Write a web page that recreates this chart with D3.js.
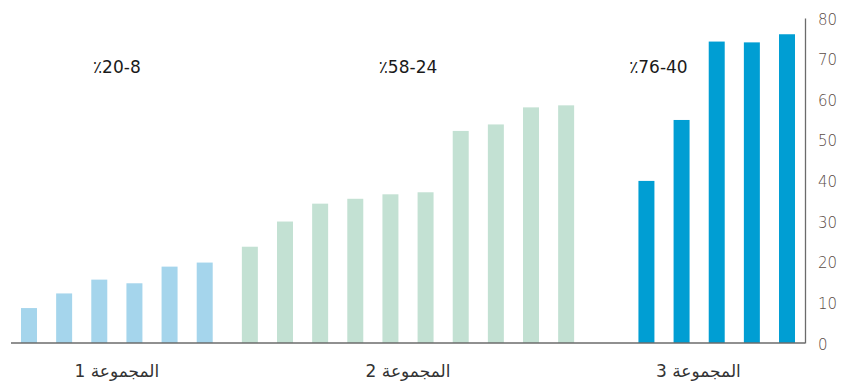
<!DOCTYPE html>
<html>
<head>
<meta charset="utf-8">
<script src="https://cdn.jsdelivr.net/npm/d3@7"></script>
<style>
  body { margin: 0; background: #fff; }
  svg { display: block; }
</style>
</head>
<body>
<div id="chart"></div>
<script>
// data
const groupNames = ["المجموعة 1", "المجموعة 2", "المجموعة 3"];
const rangeLabels = ["٪20-8", "٪58-24", "٪76-40"];
const group1 = [8.6, 12.2, 15.6, 14.7, 18.8, 19.8];
const group2 = [23.7, 29.9, 34.3, 35.5, 36.6, 37.1, 52.2, 53.8, 58.0, 58.5];
const group3 = [39.9, 54.9, 74.2, 74.0, 76.0];
const yTicks = [0, 10, 20, 30, 40, 50, 60, 70, 80];
const colors = ["#a5d5ec", "#c3e1d3", "#009ed3"];

const width = 844, height = 383;
const svg = d3.select("#chart")
    .append("svg")
    .attr("width", width)
    .attr("height", height);

const groups = [group1, group2, group3];

// flat list of bars, one empty slot before the last group
const slots = [];
groups.forEach((vals, g) => {
    if (g === 2) slots.push({ key: "gap", g: g, value: null });
    vals.forEach((v, i) => slots.push({ key: g + "-" + i, g: g, value: v }));
});
const bars = slots.filter(d => d.value !== null);

const groupGap = 10;
const x = d3.scaleBand()
    .domain(slots.map(d => d.key))
    .range([21, 775])
    .paddingInner(0.545)
    .paddingOuter(0);

const barX = d => x(d.key) + d.g * groupGap;

const y = d3.scaleLinear()
    .domain([0, 80])
    .range([343, 18]);

const axisX = 805;

// bars
svg.selectAll("rect.bar")
    .data(bars)
    .enter()
    .append("rect")
    .attr("class", "bar")
    .attr("x", barX)
    .attr("y", d => y(d.value))
    .attr("width", x.bandwidth())
    .attr("height", d => y(0) - y(d.value))
    .attr("fill", d => colors[d.g]);

// baseline
svg.append("line")
    .attr("x1", 11)
    .attr("x2", axisX)
    .attr("y1", y(0))
    .attr("y2", y(0))
    .attr("stroke", "#6b6b6b")
    .attr("stroke-width", 1.3);

// right axis
const yAxis = d3.axisRight(y)
    .tickValues(yTicks)
    .tickSize(0)
    .tickPadding(13);

const ga = svg.append("g")
    .attr("transform", `translate(${axisX},0)`)
    .call(yAxis);
ga.select(".domain")
    .attr("stroke", "#6b6b6b")
    .attr("stroke-width", 1.3);
ga.selectAll("text")
    .attr("fill", "#5a4c46")
    .attr("dy", "0.4em")
    .style("font-family", "'DejaVu Sans', sans-serif")
    .style("font-size", "15px")
    .style("font-weight", "300");

// group extents
const extents = groups.map((vals, g) => {
    const b = bars.filter(d => d.g === g);
    return [barX(b[0]), barX(b[b.length - 1]) + x.bandwidth()];
});

// group names under the axis
svg.selectAll("text.group-name")
    .data(groupNames)
    .enter()
    .append("text")
    .attr("class", "group-name")
    .attr("x", (d, g) => g === 2 ? extents[g][0] + 60 : (extents[g][0] + extents[g][1]) / 2)
    .attr("y", 377)
    .attr("text-anchor", "middle")
    .attr("direction", "rtl")
    .style("direction", "rtl")
    .style("unicode-bidi", "embed")
    .attr("fill", "#333")
    .style("font-family", "'DejaVu Sans', serif")
    .style("font-size", "17px")
    .text(d => d);

// range annotations, kept in the order they are drawn
svg.selectAll("text.range")
    .data(rangeLabels)
    .enter()
    .append("text")
    .attr("class", "range")
    .attr("x", (d, g) => g === 2 ? extents[g][0] + 20 : (extents[g][0] + extents[g][1]) / 2)
    .attr("y", 73)
    .attr("text-anchor", "middle")
    .attr("direction", "ltr")
    .style("direction", "ltr")
    .style("unicode-bidi", "bidi-override")
    .attr("fill", "#1a1a1a")
    .style("font-family", "'DejaVu Sans', sans-serif")
    .style("font-size", "17px")
    .style("letter-spacing", "0.5px")
    .text(d => d);
</script>
</body>
</html>
